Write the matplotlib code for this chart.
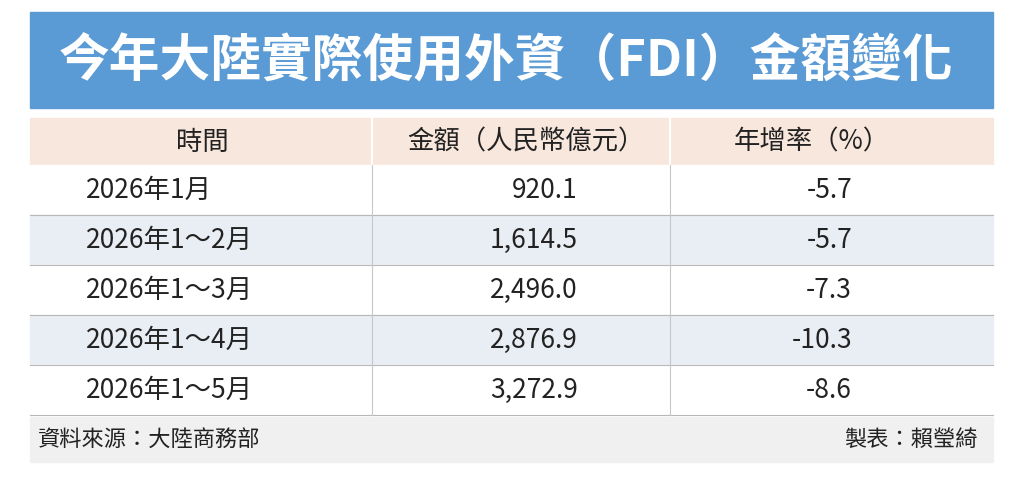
import matplotlib
matplotlib.use("Agg")
import matplotlib.pyplot as plt
from matplotlib.patches import Rectangle

plt.rcParams['font.family'] = ['Noto Sans CJK TC', 'DejaVu Sans']

title = "今年大陸實際使用外資（FDI）金額變化"
headers = ["時間", "金額（人民幣億元）", "年增率（%）"]
periods = ["2026年1月", "2026年1～2月", "2026年1～3月", "2026年1～4月", "2026年1～5月"]
amounts = [920.1, 1614.5, 2496.0, 2876.9, 3272.9]
growth = [-5.7, -5.7, -7.3, -10.3, -8.6]
source = "資料來源：大陸商務部"
maker = "製表：賴瑩綺"

fig = plt.figure(figsize=(10.24, 4.9), dpi=100)
ax = fig.add_axes([0, 0, 1, 1])
ax.set_xlim(0, 1024); ax.set_ylim(490, 0); ax.axis('off')

L, R = 30, 993
ax.add_patch(Rectangle((L, 12), R - L, 96, color='#5b9bd5'))
ax.text(506, 62, title, color='white', fontsize=36.5, fontweight='bold', ha='center', va='center')

ax.add_patch(Rectangle((L, 118), R - L, 47, color='#f8e7dd'))
cx = [202, 526, 812]
for x, h in zip(cx, headers):
    ax.text(x, 142, h, fontsize=19, ha='center', va='center', color='#222')
for x in [372, 670]:
    ax.plot([x, x], [118, 165], color='white', lw=1.5)

rh = 50
for i, (p, a, g) in enumerate(zip(periods, amounts, growth)):
    y0 = 165 + i * rh
    col = '#ffffff' if i % 2 == 0 else '#e9edf4'
    ax.add_patch(Rectangle((L, y0), R - L, rh, color=col))
    ym = y0 + rh / 2
    ax.text(86, ym, p, fontsize=19, ha='left', va='center', color='#222')
    ax.text(578, ym, f"{a:,.1f}", fontsize=19, ha='right', va='center', color='#222')
    ax.text(852, ym, f"{g:.1f}", fontsize=19, ha='right', va='center', color='#222')
    ax.plot([L, R], [y0 + rh, y0 + rh], color='#b8b8b8', lw=0.8)
    for x in [372, 670]:
        ax.plot([x, x], [y0, y0 + rh], color='#c8c8c8', lw=0.8)

ax.add_patch(Rectangle((L, 417), R - L, 45, color='#f0f0f0'))
ax.text(38, 439, source, fontsize=16, ha='left', va='center', color='#222')
ax.text(978, 439, maker, fontsize=16, ha='right', va='center', color='#222')

fig.savefig("out.png", dpi=100)
